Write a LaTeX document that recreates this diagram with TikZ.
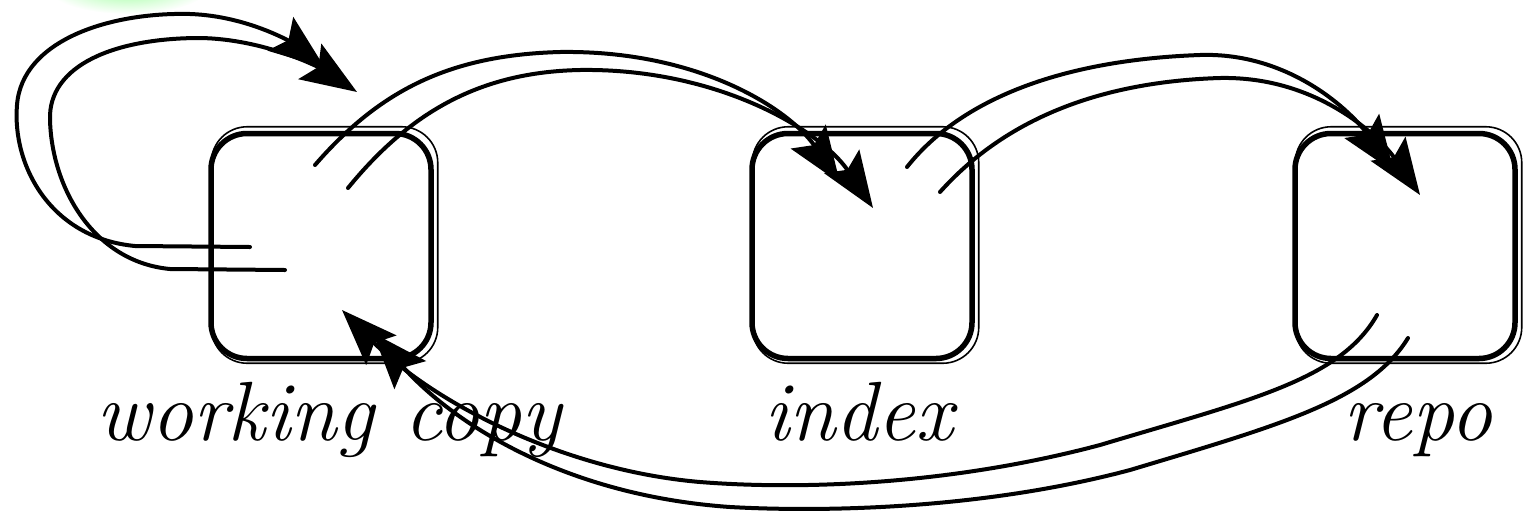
\documentclass[tikz,border=0pt]{standalone}
\usetikzlibrary{arrows.meta,calc}
\begin{document}
\begin{tikzpicture}[x=1pt,y=-1pt,
  box/.style={draw=black, line width=5.5pt, rounded corners=36pt, minimum width=220pt, minimum height=225pt, inner sep=0pt},
  boxtwo/.style={draw=black, line width=1.6pt, rounded corners=36pt},
  flow/.style={line width=4pt, line cap=round, -{Stealth[length=56pt,width=42pt,inset=10pt,fill=black]}},
  lbl/.style={font=\fontsize{84}{90}\selectfont\itshape, inner sep=0pt, anchor=base}]
\useasboundingbox (0,0) rectangle (1531,523);
\begin{scope}
\clip (0,0) rectangle (1531,523);
\shade[inner color=green!40, outer color=white] (128,-14) ellipse [x radius=82pt, y radius=28pt];
\end{scope}
% boxes
\node[box] (wc) at (321,246) {};
\node[box] (ix) at (862,246) {};
\node[box] (rp) at (1405,246) {};
\foreach \n in {wc,ix,rp}{
  \draw[boxtwo] ($( \n.north west)+(3,-4)$) rectangle ($( \n.south east)+(4,2)$);
}
% labels
\node[lbl] (lwc) at (329,440) {working copy};
\node[lbl] (lix) at (859,440) {index};
\node[lbl] (lrp) at (1418,440) {repo};
% arrow end points
\coordinate (a1s) at (250,247); \coordinate (a1e) at (325,68);
\coordinate (a2s) at (285,270); \coordinate (a2e) at (357,92);
\coordinate (b1s) at (315,165); \coordinate (b1e) at (840,183);
\coordinate (b2s) at (348,188); \coordinate (b2e) at (873,208);
\coordinate (c1s) at (907,167); \coordinate (c1e) at (1394,172);
\coordinate (c2s) at (940,192); \coordinate (c2e) at (1420,195);
\coordinate (d1s) at (1377,315); \coordinate (d1e) at (342,310);
\coordinate (d2s) at (1408,338); \coordinate (d2e) at (373,333);
% self loop on working copy
\draw[flow] (a1s) -- (135,246) .. controls (50,238) and (12,165) .. (17,105) .. controls (22,40) and (110,12) .. (190,14) .. controls (250,16) and (295,45) .. (a1e);
\draw[flow] (a2s) -- (170,269) .. controls (95,262) and (52,190) .. (50,120) .. controls (48,65) and (115,38) .. (200,38) .. controls (265,39) and (320,68) .. (a2e);
% working copy -> index
\draw[flow] (b1s) .. controls (380,90) and (450,55) .. (560,52) .. controls (700,50) and (790,110) .. (b1e);
\draw[flow] (b2s) .. controls (410,112) and (480,72) .. (580,70) .. controls (720,68) and (822,132) .. (b2e);
% index -> repo
\draw[flow] (c1s) .. controls (960,100) and (1060,60) .. (1200,55) .. controls (1290,52) and (1352,112) .. (c1e);
\draw[flow] (c2s) .. controls (1000,125) and (1090,82) .. (1220,78) .. controls (1320,76) and (1382,140) .. (c2e);
% repo -> working copy
\draw[flow] (d1s) .. controls (1340,380) and (1250,400) .. (1100,445) .. controls (950,485) and (800,490) .. (700,482) .. controls (560,470) and (430,400) .. (d1e);
\draw[flow] (d2s) .. controls (1370,400) and (1280,425) .. (1130,470) .. controls (980,510) and (820,512) .. (730,507) .. controls (560,495) and (450,420) .. (d2e);
\end{tikzpicture}
\end{document}
